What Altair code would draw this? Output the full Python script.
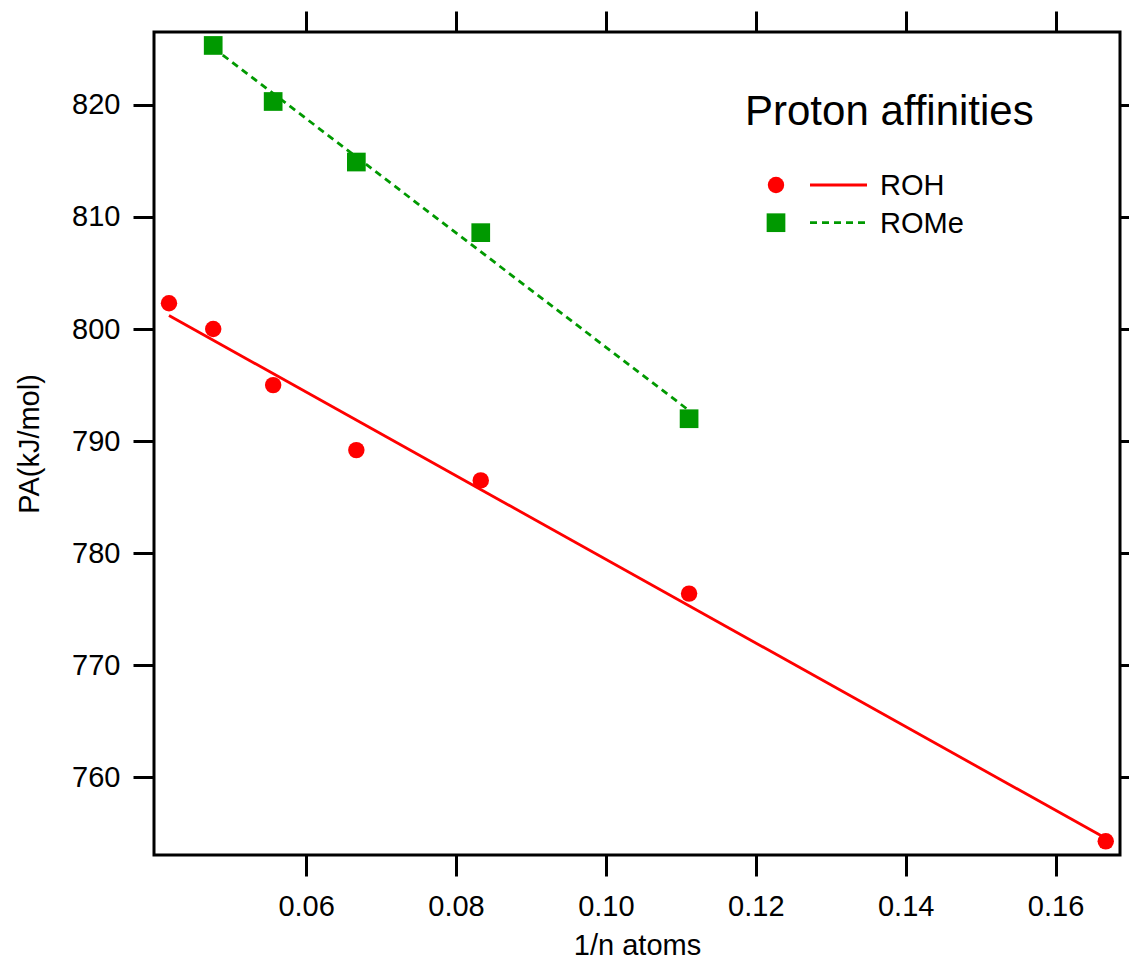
import altair as alt
import pandas as pd

# ---- data ----
roh_x = [0.0417, 0.0476, 0.0556, 0.0667, 0.0833, 0.1111, 0.1667]
roh_y = [802.3, 800.0, 795.0, 789.2, 786.5, 776.4, 754.3]
rome_x = [0.0476, 0.0556, 0.0667, 0.0833, 0.1111]
rome_y = [825.3, 820.3, 814.9, 808.6, 792.0]
series_names = ["ROH", "ROMe"]
series_colors = ["#ff0000", "#009900"]
x_ticks = [0.06, 0.08, 0.10, 0.12, 0.14, 0.16]
y_ticks = [760, 770, 780, 790, 800, 810, 820]
x_domain = [0.0397, 0.1686]
y_domain = [753.08, 826.5]
legend_title = "Proton affinities"
x_title = "1/n atoms"
y_title = "PA(kJ/mol)"

roh = pd.DataFrame({"x": roh_x, "y": roh_y})
rome = pd.DataFrame({"x": rome_x, "y": rome_y})

FONT = "Liberation Sans"
RED, GREEN = series_colors
xs = alt.Scale(domain=x_domain, nice=False, zero=False)
ys = alt.Scale(domain=y_domain, nice=False, zero=False)

common_axis = dict(grid=False, domain=False, ticks=True, tickSize=21, tickWidth=3,
                   tickColor="black", labelFontSize=29, labelFont=FONT,
                   labelColor="black", labelOverlap=False, labelFlush=False,
                   titleFontSize=29, titleFont=FONT, titleFontWeight="normal",
                   titleColor="black")

x_axis = alt.Axis(values=x_ticks, format=".2f", title=x_title, orient="bottom",
                  labelPadding=16, titleY=99, titleBaseline="alphabetic", **common_axis)
y_axis = alt.Axis(values=y_ticks, format="d", title=y_title, orient="left",
                  labelPadding=13, titleX=-116, titleBaseline="alphabetic", **common_axis)
x_axis_top = alt.Axis(values=x_ticks, orient="top", labels=False, title=None,
                      grid=False, domain=False, tickSize=21, tickWidth=3, tickColor="black")
y_axis_right = alt.Axis(values=y_ticks, orient="right", labels=False, title=None,
                        grid=False, domain=False, tickSize=21, tickWidth=3, tickColor="black")

# mirror ticks (top / right)
mirror = alt.Chart(roh).mark_point(opacity=0).encode(
    x=alt.X("x:Q", scale=xs, axis=x_axis_top),
    y=alt.Y("y:Q", scale=ys, axis=y_axis_right),
)

# fitted lines
roh_fit = alt.Chart(roh).transform_regression("x", "y").mark_line(
    color=RED, strokeWidth=2.8
).encode(
    x=alt.X("x:Q", scale=xs, axis=None),
    y=alt.Y("y:Q", scale=ys, axis=None),
)
rome_fit = alt.Chart(rome).transform_regression("x", "y").mark_line(
    color=GREEN, strokeWidth=2.8, strokeDash=[7, 5]
).encode(
    x=alt.X("x:Q", scale=xs, axis=None),
    y=alt.Y("y:Q", scale=ys, axis=None),
)

# points
roh_pts = alt.Chart(roh).mark_circle(size=270, color=RED, opacity=1).encode(
    x=alt.X("x:Q", scale=xs, axis=x_axis),
    y=alt.Y("y:Q", scale=ys, axis=y_axis),
)
rome_pts = alt.Chart(rome).mark_square(size=350, color=GREEN, opacity=1).encode(
    x=alt.X("x:Q", scale=xs, axis=None),
    y=alt.Y("y:Q", scale=ys, axis=None),
)

# legend drawn inside the plot
legend_layers = [
    alt.Chart(pd.DataFrame({"t": [legend_title]})).mark_text(
        align="left", baseline="alphabetic", fontSize=42, font=FONT, color="black"
    ).encode(x=alt.value(591), y=alt.value(93), text="t:N")
]
legend_rows_y = [153, 190.7]
legend_shapes = ["circle", "square"]
legend_sizes = [270, 350]
legend_dash = [[1, 0], [7, 5]]
for name, col, ly, shp, sz, dash in zip(series_names, series_colors, legend_rows_y,
                                         legend_shapes, legend_sizes, legend_dash):
    one = pd.DataFrame({"t": [name]})
    legend_layers.append(
        alt.Chart(one).mark_point(shape=shp, filled=True, size=sz, color=col, opacity=1)
        .encode(x=alt.value(622), y=alt.value(ly))
    )
    legend_layers.append(
        alt.Chart(one).mark_rule(color=col, strokeWidth=2.8, strokeDash=dash)
        .encode(x=alt.value(656), x2=alt.value(713), y=alt.value(ly))
    )
    legend_layers.append(
        alt.Chart(one).mark_text(align="left", baseline="alphabetic", fontSize=29,
                                 font=FONT, color="black")
        .encode(x=alt.value(726), y=alt.value(ly + 10.4), text="t:N")
    )

chart = alt.layer(
    mirror, roh_fit, rome_fit, roh_pts, rome_pts, *legend_layers
).resolve_axis(
    x="independent", y="independent"
).properties(
    width=966, height=823,
    autosize=alt.AutoSizeParams(type="none"),
    padding={"left": 146, "top": 24, "right": 9, "bottom": 107},
    background="white",
).configure_view(
    stroke="black", strokeWidth=3
)

chart.save("out.html", embed_options={"renderer": "svg", "actions": False})
